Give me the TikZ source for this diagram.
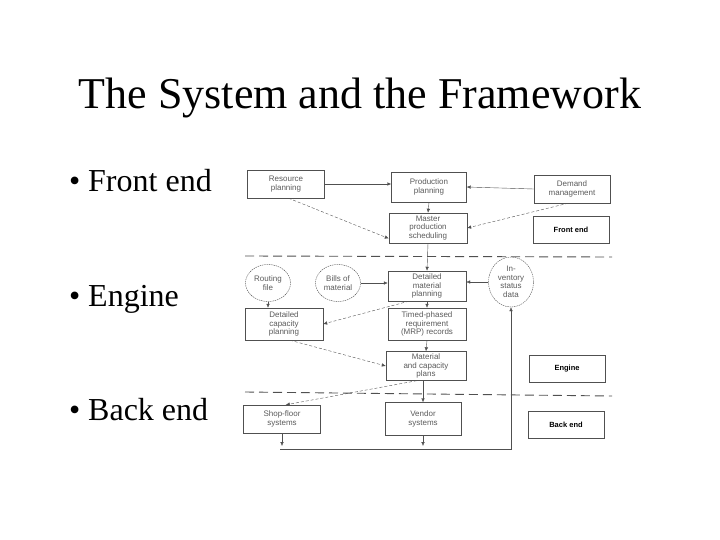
\documentclass[tikz,border=0pt]{standalone}
\usepackage{fontspec}
\setmainfont{Liberation Serif}
\setsansfont{Liberation Sans}
\usetikzlibrary{arrows.meta,shapes.geometric}
\definecolor{scanline}{RGB}{80,80,80}
\definecolor{scantext}{RGB}{90,90,90}

\begin{document}
\begin{tikzpicture}[x=1pt, y=-1pt]
  \tikzset{
    font={\fontsize{8pt}{8.5pt}\sffamily},
    block/.style={draw=scanline, thin, text=scantext, align=center,
      minimum width=77pt, minimum height=28pt, inner sep=1pt},
    label/.style={draw=scanline, text=black, font={\fontsize{7.5pt}{9pt}\sffamily\bfseries},
      minimum width=76pt, minimum height=27pt},
    blob/.style={ellipse, draw=scanline, dash pattern=on 1.5pt off 0.8pt, text=scantext,
      align=center, inner sep=0pt, minimum width=45pt, minimum height=37pt},
    flow/.style={draw=scanline, -{Latex[length=4pt,width=3.5pt]}},
    weak/.style={flow, dash pattern=on 3pt off 2pt},
    divider/.style={draw=scanline, line width=0.9pt, dash pattern=on 9pt off 5pt},
    slide/.style={font={\fontsize{32pt}{36pt}\selectfont}, inner sep=0pt, anchor=base west},
  }
  \useasboundingbox (0,0) rectangle (720,540);

  % title and bullets
  \node[font={\fontsize{44pt}{50pt}\selectfont}, inner sep=0pt, anchor=base] (title) at (360,109) {The System and the Framework};
  \node[slide] (b1) at (69,192) {\textbullet};
  \node[slide] (frontTxt) at (88,192) {Front end};
  \node[slide] (b2) at (69,306) {\textbullet};
  \node[slide] (engineTxt) at (88,306) {Engine};
  \node[slide] (b3) at (69,420) {\textbullet};
  \node[slide] (backTxt) at (88,420) {Back end};

  % front end
  \node[block] (res) at (286,184) {Resource\\planning};
  \node[block, minimum width=75pt, minimum height=30pt] (prod) at (429,187) {Production\\planning};
  \node[block, minimum width=76pt] (dem) at (572,189) {Demand\\management};
  \node[label, line width=1pt] (front) at (571,230) {Front end};
  \node[block, minimum width=78pt, minimum height=30pt] (mps) at (428,228) {Master\\production\\scheduling};

  \draw[divider] (245,256) -- (612,257);

  % engine
  \node[blob] (route) at (268,283) {Routing\\file};
  \node[blob] (bom) at (338,283) {Bills of\\material};
  \node[block, minimum width=78pt, minimum height=30pt] (dmp) at (427,286) {Detailed\\material\\planning};
  \node[blob, minimum height=50pt] (inv) at (511,282) {In-\\ventory\\status\\data};
  \node[block, minimum width=78pt, minimum height=32pt] (dcp) at (284,324) {Detailed\\capacity\\planning};
  \node[block, minimum width=78pt, minimum height=32pt] (tpr) at (427,324) {Timed-phased\\requirement\\(MRP) records};
  \node[block, minimum width=80pt, minimum height=29pt] (mcp) at (426,366) {Material\\and capacity\\plans};
  \node[label] (engine) at (567,369) {Engine};

  \draw[divider] (245,392) -- (612,396);

  % back end
  \node[block] (shop) at (282,419) {Shop-floor\\systems};
  \node[block, minimum width=76pt, minimum height=33pt] (vendor) at (423,419) {Vendor\\systems};
  \node[label] (back) at (566,425) {Back end};
  \coordinate (loopL) at (280,449);
  \coordinate (loopR) at (511,449);

  % connectors
  \draw[flow] (res.east) -- (prod.west |- res.east);
  \draw[flow] (prod.south) -- (mps.north);
  \draw[weak] (res.-80) -- (mps.195);
  \draw[flow] (dem.west) -- (prod.east);
  \draw[weak] (dem.-105) -- (mps.east);
  \draw[flow] (mps.south) -- (dmp.north);
  \draw[flow] (bom.east) -- (dmp.west |- bom.east);
  \draw[flow] (inv.west) -- (dmp.east |- inv.west);
  \draw[flow] (route.south) -- (route.south |- dcp.north);
  \draw[weak] (dmp.-140) -- (dcp.east);
  \draw[flow] (dmp.south) -- (tpr.north);
  \draw[flow] (tpr.south) -- (mcp.north);
  \draw[weak] (dcp.-70) -- (mcp.west);
  \draw[weak] (mcp.-122) -- (shop.75);
  \draw[flow] (vendor.north |- mcp.south) -- (vendor.north);
  \draw[flow, shorten >=3pt] (shop.south) -- (shop.south |- loopL);
  \draw[flow, shorten >=3pt] (vendor.south) -- (vendor.south |- loopL);
  \draw[flow] (loopL) -- (loopR) -- (inv.south);
\end{tikzpicture}
\end{document}
